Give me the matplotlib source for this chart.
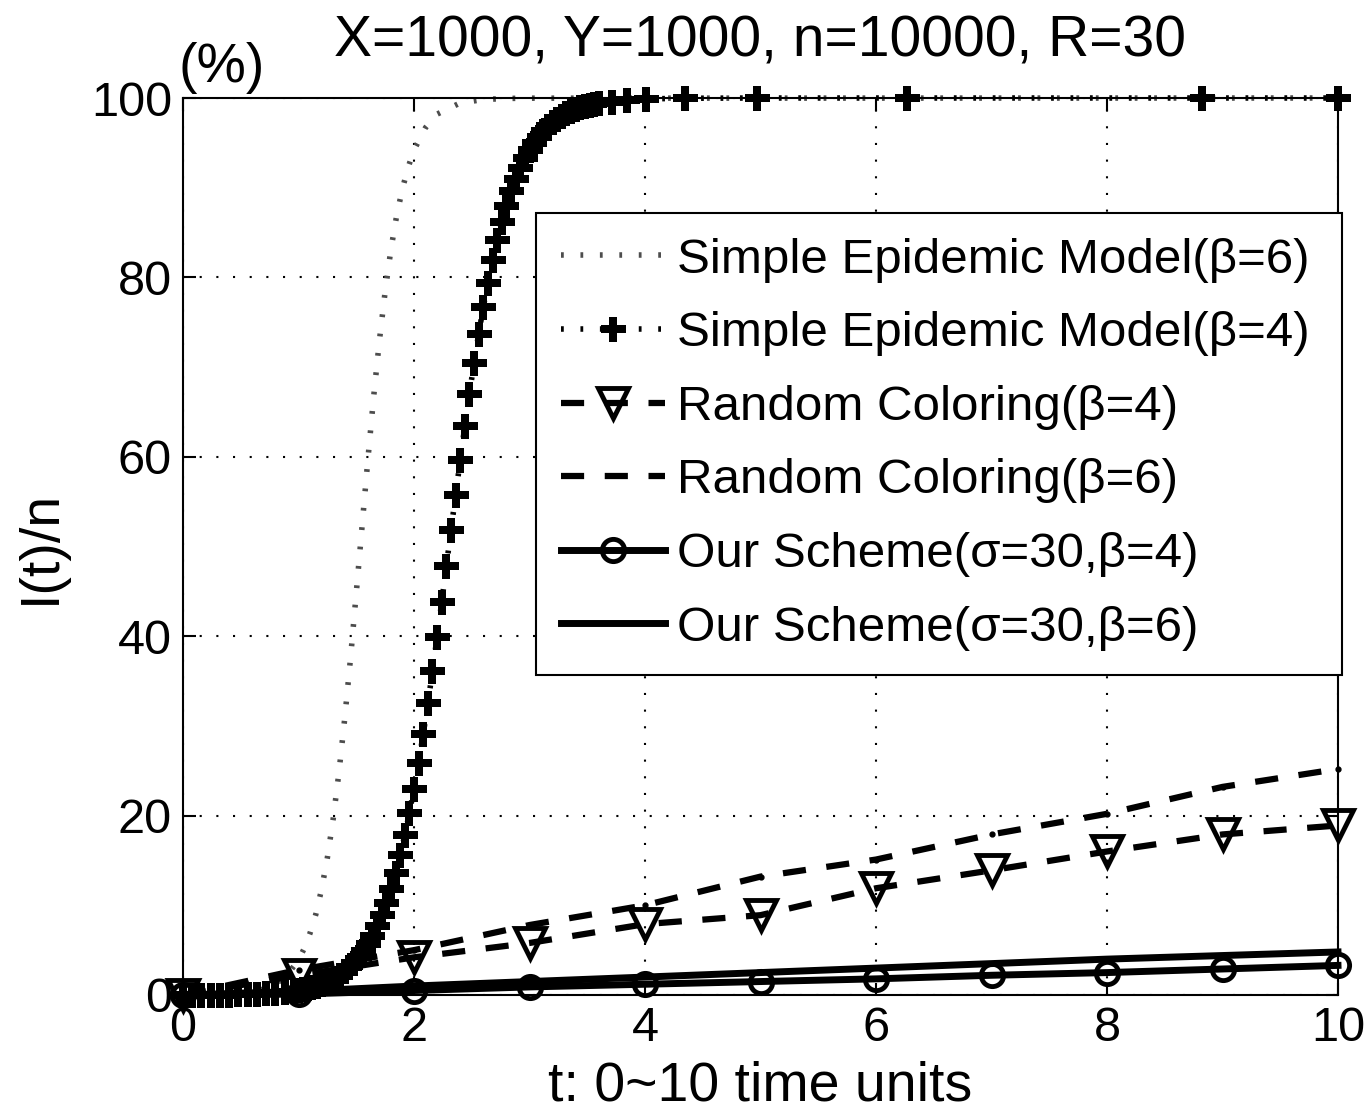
import matplotlib
matplotlib.use('Agg')
import matplotlib.pyplot as plt

plt.rcParams['font.family'] = ['Liberation Sans', 'DejaVu Sans']

# Simple epidemic model, beta=6 (dotted curve)
t_se6 = [0, 0.2, 0.4, 0.6, 0.7, 0.8, 0.9, 1.0, 1.05, 1.1, 1.15, 1.2, 1.25, 1.3, 1.35,
         1.4, 1.45, 1.5, 1.55, 1.6, 1.65, 1.7, 1.75, 1.8, 1.85, 1.9, 1.95, 2.0, 2.1,
         2.2, 2.4, 2.6, 2.8, 3.0, 10]
se6 = [0.01, 0.03, 0.11, 0.37, 0.66, 1.2, 2.2, 3.9, 5.2, 6.9, 9.0, 11.8, 15.3, 19.6, 24.8,
       30.8, 37.5, 44.8, 52.2, 59.6, 66.6, 72.9, 78.4, 83.1, 86.9, 89.9, 92.3, 94.2, 96.7,
       98.2, 99.45, 99.83, 99.95, 99.98, 100]

# Simple epidemic model, beta=4 (plus markers)
t_se4 = [0, 0.08, 0.16, 0.24, 0.32, 0.40, 0.48, 0.56, 0.64, 0.72,
         0.80, 0.88, 0.96, 1.00, 1.04, 1.08, 1.12, 1.16, 1.20, 1.24,
         1.28, 1.32, 1.36, 1.40, 1.44, 1.48, 1.52, 1.56, 1.60, 1.64,
         1.68, 1.72, 1.76, 1.80, 1.84, 1.88, 1.92, 1.96, 2.00, 2.04,
         2.08, 2.12, 2.16, 2.20, 2.24, 2.28, 2.32, 2.36, 2.40, 2.44,
         2.48, 2.52, 2.56, 2.60, 2.64, 2.68, 2.72, 2.76, 2.80, 2.84,
         2.88, 2.92, 2.96, 3.00, 3.04, 3.08, 3.12, 3.16, 3.20, 3.24,
         3.28, 3.32, 3.36, 3.40, 3.44, 3.48, 3.52, 3.56, 3.60, 3.71,
         3.84, 4.01, 4.35, 4.97, 6.27, 8.82, 10]
se4 = [0.010, 0.014, 0.019, 0.026, 0.036, 0.050, 0.068, 0.094, 0.129, 0.178,
       0.245, 0.337, 0.463, 0.54, 0.64, 0.75, 0.88, 1.03, 1.20, 1.41,
       1.65, 1.93, 2.25, 2.63, 3.08, 3.59, 4.19, 4.88, 5.68, 6.60,
       7.66, 8.87, 10.25, 11.8, 13.6, 15.6, 17.8, 20.3, 23.0, 25.9,
       29.1, 32.5, 36.1, 39.9, 43.8, 47.8, 51.8, 55.7, 59.6, 63.4,
       67.0, 70.5, 73.7, 76.7, 79.4, 81.9, 84.2, 86.2, 88.0, 89.6,
       91.0, 92.2, 93.3, 94.2, 95.0, 95.7, 96.3, 96.9, 97.3, 97.7,
       98.0, 98.3, 98.6, 98.8, 99.0, 99.1, 99.2, 99.35, 99.45, 99.6,
       99.8, 99.9, 99.97, 100, 100, 100, 100]

# integer time steps for the simulation curves
t_sim = [0, 1, 2, 3, 4, 5, 6, 7, 8, 9, 10]
rc4 = [0, 2.2, 4.2, 5.8, 7.9, 8.9, 11.9, 13.9, 16.0, 17.9, 18.9]
rc6 = [0, 2.8, 5.0, 7.8, 10.0, 13.2, 15.1, 17.9, 20.2, 23.2, 25.2]
os4 = [0, 0.1, 0.5, 0.9, 1.2, 1.5, 1.8, 2.2, 2.5, 2.9, 3.3]
os6 = [0, 0.4, 1.0, 1.5, 2.0, 2.5, 3.0, 3.5, 4.0, 4.4, 4.8]

labels = ['Simple Epidemic Model(β=6)', 'Simple Epidemic Model(β=4)',
          'Random Coloring(β=4)', 'Random Coloring(β=6)',
          'Our Scheme(σ=30,β=4)', 'Our Scheme(σ=30,β=6)']

fig = plt.figure(figsize=(13.68, 11.13), dpi=100)
ax = fig.add_axes([183/1368, 1 - 995/1113, 1155/1368, 897/1113])

dotted = (0, (0.5, 3))
dashed = (0, (3.7, 3.3))

ax.plot(t_se6, se6, color='0.3', lw=4, ls=dotted, clip_on=False, label=labels[0])
ax.plot(t_se4, se4, color='k', lw=4, ls=dotted, marker='P', ms=18, mew=0,
        clip_on=False, label=labels[1])
ax.plot(t_sim, rc4, color='k', lw=4.5, ls=dashed, marker='v', ms=22, mfc='none',
        mew=3.5, clip_on=False, label=labels[2])
ax.plot(t_sim, rc6, color='k', lw=4.5, ls=dashed, clip_on=False, label=labels[3])
ax.plot(t_sim, rc6, 'k.', ms=7, clip_on=False)
ax.plot(t_sim, os4, color='k', lw=5, marker='o', ms=16, mfc='none', mew=3.5,
        clip_on=False, label=labels[4])
ax.plot(t_sim, os6, color='k', lw=5, clip_on=False, label=labels[5])

ax.set_xlim(0, 10)
ax.set_ylim(0, 100)
ax.set_xticks([0, 2, 4, 6, 8, 10])
ax.set_yticks([0, 20, 40, 60, 80, 100])
ax.grid(True, color='k', lw=1.5, ls=(0, (1, 7)))
ax.tick_params(direction='in', top=True, right=True, length=9, width=1.5,
               labelsize=35, pad=8)
for s in ax.spines.values():
    s.set_linewidth(1.5)

ax.set_title('X=1000, Y=1000, n=10000, R=30', fontsize=41, pad=30)
ax.set_xlabel('t: 0~10 time units', fontsize=40, labelpad=7)
ax.set_ylabel('I(t)/n', fontsize=40, labelpad=17)
ax.text(-0.004, 1.005, '(%)', transform=ax.transAxes, fontsize=40,
        ha='left', va='bottom')

# legend box spans x 536..1342, top at y 213 in the reference
leg = ax.legend(loc='upper left', bbox_to_anchor=(0.3056, 0.3, 0.698, 0.5718),
                mode='expand', alignment='left', borderaxespad=0, fontsize=35.5,
                handlelength=2.12, handletextpad=0.25, labelspacing=0.58,
                borderpad=0.5, fancybox=False, edgecolor='k', framealpha=1)
leg.get_frame().set_linewidth(1.5)

fig.savefig('out.png', dpi=100)
